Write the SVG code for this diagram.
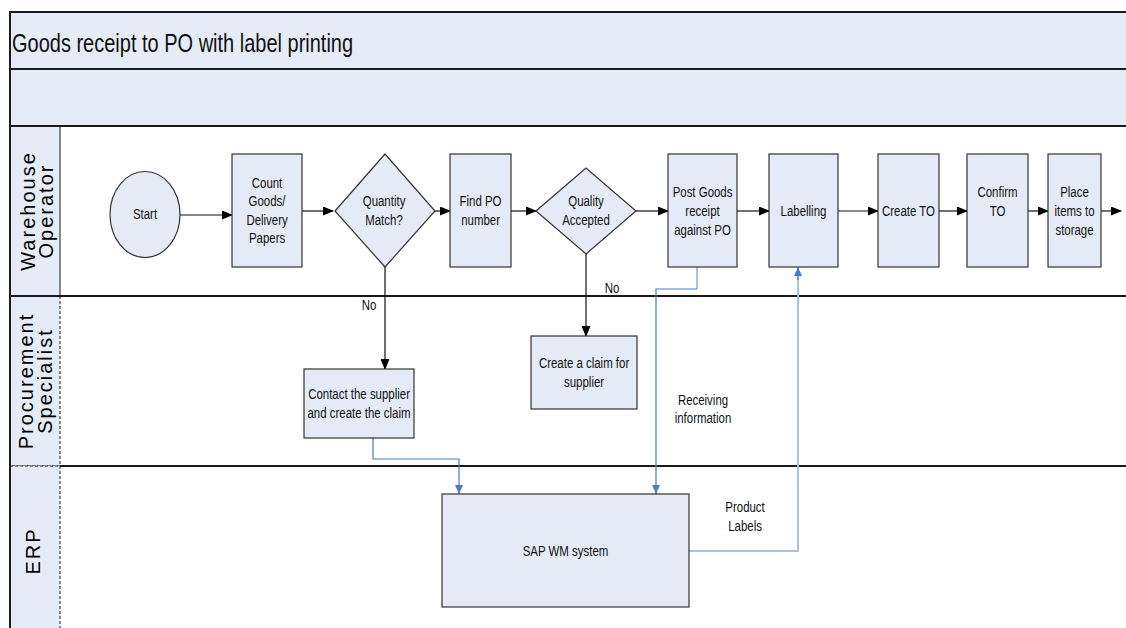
<svg xmlns="http://www.w3.org/2000/svg" width="1126" height="628" viewBox="0 0 1126 628">
  <style>
    .band { fill: #e6ecf7; }
    .frame { stroke: #1a1a1a; stroke-width: 2; fill: none; }
    .hdr { fill: #e6ecf7; stroke: #1a1a1a; stroke-width: 1; }
    .hdr-dash { fill: #e6ecf7; stroke: #1a1a1a; stroke-width: 1; stroke-dasharray: 3 2; }
    .lane-label { font-family: "Liberation Sans", Arial, sans-serif; font-size: 20px; letter-spacing: 2px; fill: #000; text-anchor: middle; }
    .node { fill: #e5ebf6; stroke: #333; stroke-width: 1.2; }
    /* condensed sans: regular Liberation Sans squeezed horizontally */
    .t { font-family: "Liberation Sans", Arial, sans-serif; font-size: 14.5px; fill: #111; text-anchor: middle;
         transform-box: fill-box; transform-origin: center; transform: scaleX(0.79); }
    .title { font-family: "Liberation Sans", Arial, sans-serif; font-size: 25px; fill: #111;
             transform-box: fill-box; transform-origin: left center; transform: scaleX(0.8); }
    .flow { stroke: #111; stroke-width: 1.2; fill: none; marker-end: url(#ah); }
    .link { stroke: #4a7bc8; stroke-width: 1.2; fill: none; }
    .link-light { stroke: #a9c1e8; stroke-width: 2; fill: none; }
  </style>
  <defs>
    <marker id="ah" markerUnits="userSpaceOnUse" markerWidth="11" markerHeight="9" refX="10" refY="4.5" orient="auto">
      <path d="M0,0 L11,4.5 L0,9 z" fill="#000"/>
    </marker>
    <marker id="ahb" markerUnits="userSpaceOnUse" markerWidth="9" markerHeight="9" refX="9" refY="4" orient="auto">
      <path d="M0,0 L9,4 L0,8 z" fill="#4a7bc8"/>
    </marker>
  </defs>

  <rect width="1126" height="628" fill="#fff"/>

  <!-- title and spare band -->
  <rect class="band" x="10" y="12" width="1116" height="114"/>
  <text class="title" x="12" y="52">Goods receipt to PO with label printing</text>

  <!-- lane headers -->
  <g id="lane-warehouse">
    <rect class="hdr" x="10" y="126" width="50" height="170"/>
    <text class="lane-label" transform="translate(35,211) rotate(-90)">Warehouse</text>
    <text class="lane-label" transform="translate(53,211) rotate(-90)">Operator</text>
  </g>
  <g id="lane-procurement">
    <rect class="hdr-dash" x="10" y="296" width="50" height="170"/>
    <text class="lane-label" transform="translate(33,381) rotate(-90)">Procurement</text>
    <text class="lane-label" transform="translate(52,381) rotate(-90)">Specialist</text>
  </g>
  <g id="lane-erp">
    <rect class="hdr-dash" x="10" y="466" width="50" height="175"/>
    <text class="lane-label" transform="translate(40,551) rotate(-90)">ERP</text>
  </g>

  <!-- frame lines -->
  <g id="frame">
    <path class="frame" d="M1126,12 H10 V628"/>
    <path class="frame" d="M10,69 H1126 M10,126 H1126 M10,296 H1126 M60,466 H1126"/>
  </g>

  <!-- connectors -->
  <g id="connectors">
    <path class="flow" d="M180,215 H232"/>
    <path class="flow" d="M302,211 H333"/>
    <path class="flow" d="M435,211 H450"/>
    <path class="flow" d="M511,211 H536"/>
    <path class="flow" d="M636,211 H668"/>
    <path class="flow" d="M737,211 H769"/>
    <path class="flow" d="M838,211 H878"/>
    <path class="flow" d="M939,211 H967"/>
    <path class="flow" d="M1028,211 H1048"/>
    <path class="flow" d="M1101,211 H1121"/>
    <path class="flow" d="M385,267 V369"/>
    <path class="flow" d="M586,254 V336"/>

    <path class="link" d="M373,438 V459 H459 V494" marker-end="url(#ahb)"/>
    <path class="link-light" d="M697,267 V289"/>
    <path class="link" d="M697,289 H656 V494" marker-end="url(#ahb)"/>
    <path class="link-light" d="M689,551 H798 V276"/>
    <path class="link" d="M798,280 V267" marker-end="url(#ahb)"/>

    <text class="t" x="369" y="310">No</text>
    <text class="t" x="612" y="293">No</text>
    <text class="t" x="703" y="405">Receiving</text>
    <text class="t" x="703" y="423">information</text>
    <text class="t" x="745" y="512">Product</text>
    <text class="t" x="745" y="531">Labels</text>
  </g>

  <!-- process nodes -->
  <g id="start">
    <ellipse class="node" cx="145" cy="214.5" rx="35" ry="43"/>
    <text class="t" x="145" y="219">Start</text>
  </g>
  <g id="count-goods">
    <rect class="node" x="232" y="154" width="70" height="113"/>
    <text class="t" x="267" y="188">Count</text>
    <text class="t" x="267" y="206.5">Goods/</text>
    <text class="t" x="267" y="225">Delivery</text>
    <text class="t" x="267" y="243.5">Papers</text>
  </g>
  <g id="quantity-match">
    <polygon class="node" points="335,211 385,154 435,211 385,267"/>
    <text class="t" x="384" y="206">Quantity</text>
    <text class="t" x="384" y="225">Match?</text>
  </g>
  <g id="find-po">
    <rect class="node" x="450" y="154" width="61" height="113"/>
    <text class="t" x="480.5" y="206">Find PO</text>
    <text class="t" x="480.5" y="225">number</text>
  </g>
  <g id="quality-accepted">
    <polygon class="node" points="536,211 586,168 636,211 586,254"/>
    <text class="t" x="586" y="206">Quality</text>
    <text class="t" x="586" y="225">Accepted</text>
  </g>
  <g id="post-goods-receipt">
    <rect class="node" x="668" y="154" width="69" height="113"/>
    <text class="t" x="702.5" y="197">Post Goods</text>
    <text class="t" x="702.5" y="216">receipt</text>
    <text class="t" x="702.5" y="235">against PO</text>
  </g>
  <g id="labelling">
    <rect class="node" x="769" y="154" width="69" height="113"/>
    <text class="t" x="803.5" y="216">Labelling</text>
  </g>
  <g id="create-to">
    <rect class="node" x="878" y="154" width="61" height="113"/>
    <text class="t" x="908.5" y="216">Create TO</text>
  </g>
  <g id="confirm-to">
    <rect class="node" x="967" y="154" width="61" height="113"/>
    <text class="t" x="997.5" y="197">Confirm</text>
    <text class="t" x="997.5" y="216">TO</text>
  </g>
  <g id="place-items">
    <rect class="node" x="1048" y="154" width="53" height="113"/>
    <text class="t" x="1074.5" y="197">Place</text>
    <text class="t" x="1074.5" y="216">items to</text>
    <text class="t" x="1074.5" y="235">storage</text>
  </g>
  <g id="contact-supplier">
    <rect class="node" x="304" y="369" width="110" height="69"/>
    <text class="t" x="359" y="399">Contact the supplier</text>
    <text class="t" x="359" y="418">and create the claim</text>
  </g>
  <g id="create-claim">
    <rect class="node" x="531" y="336" width="106" height="73"/>
    <text class="t" x="584" y="368">Create a claim for</text>
    <text class="t" x="584" y="387">supplier</text>
  </g>
  <g id="sap-wm">
    <rect class="node" x="442" y="494" width="247" height="113"/>
    <text class="t" x="565.5" y="556">SAP WM system</text>
  </g>
</svg>
